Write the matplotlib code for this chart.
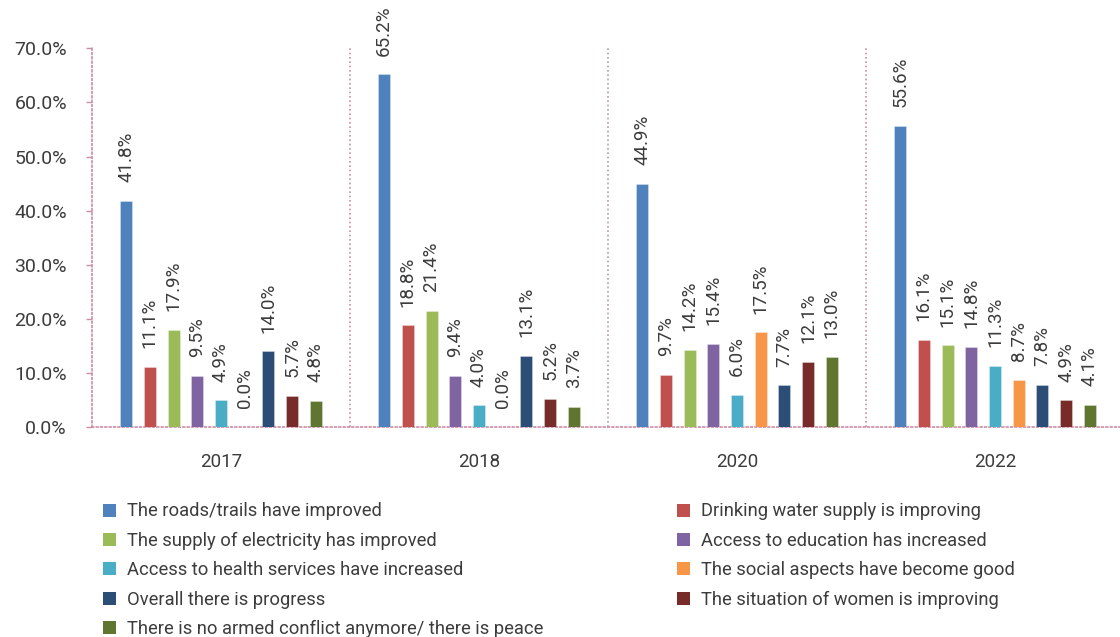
import matplotlib
matplotlib.use("Agg")
import matplotlib.pyplot as plt
from matplotlib.patches import Patch

years = ["2017", "2018", "2020", "2022"]

series_names = [
    "The roads/trails have improved",
    "Drinking water supply is improving",
    "The supply of electricity has improved",
    "Access to education has increased",
    "Access to health services have increased",
    "The social aspects have become good",
    "Overall there is progress",
    "The situation of women is improving",
    "There is no armed conflict anymore/ there is peace",
]

roads = [41.8, 65.2, 44.9, 55.6]
water = [11.1, 18.8, 9.7, 16.1]
electricity = [17.9, 21.4, 14.2, 15.1]
education = [9.5, 9.4, 15.4, 14.8]
health = [4.9, 4.0, 6.0, 11.3]
social = [0.0, 0.0, 17.5, 8.7]
progress = [14.0, 13.1, 7.7, 7.8]
women = [5.7, 5.2, 12.1, 4.9]
peace = [4.8, 3.7, 13.0, 4.1]

series_values = [roads, water, electricity, education, health,
                 social, progress, women, peace]

colors = ["#4F81BD", "#C0504D", "#9BBB59", "#8064A2", "#4BACC6",
          "#F79646", "#2C4D75", "#772C2A", "#5F7530"]

yticks = [0, 10, 20, 30, 40, 50, 60, 70]

FONT = "Roboto"
TEXT_COLOR = "#3c3c3c"
GRID_COLOR = "#CC8DA6"
DOT = (0, (1.0, 1.6))

plt.rcParams["font.family"] = [FONT, "DejaVu Sans"]

fig = plt.figure(figsize=(11.2, 6.37), dpi=100)
ax = fig.add_axes([92 / 1120, 1 - 427 / 637, 1032 / 1120, (427 - 48.3) / 637])

slot = 0.0919
bar_w = 0.0465
n = len(series_values)

for i, (vals, col) in enumerate(zip(series_values, colors)):
    xs = [g + (i - (n - 1) / 2) * slot for g in range(len(years))]
    ax.bar(xs, vals, width=bar_w, color=col,
           edgecolor=(1, 1, 1, 0.35), linewidth=0.6, zorder=3)
    for x, v in zip(xs, vals):
        ax.annotate(f"{v:.1f}%", xy=(x, v), xytext=(0, 13.5),
                    textcoords="offset points", rotation=90,
                    ha="center", va="bottom", fontsize=13.5,
                    color=TEXT_COLOR)

ax.set_xlim(-0.5, 3.5)
ax.set_ylim(0, 70)

# dotted group separators
ax.vlines([0.5, 1.5, 2.5], 0, 70, colors=GRID_COLOR, linestyles=[DOT],
          linewidth=1.2, zorder=1)

for s in ["top", "right"]:
    ax.spines[s].set_visible(False)
for s in ["left", "bottom"]:
    ax.spines[s].set_color(GRID_COLOR)
    ax.spines[s].set_linestyle(DOT)
    ax.spines[s].set_linewidth(1.2)

ax.set_yticks(yticks)
ax.set_yticklabels([f"{t:.1f}%" for t in yticks])
ax.tick_params(axis="y", length=4.5, width=1.0, color=GRID_COLOR,
               pad=13.5, labelsize=14, labelcolor=TEXT_COLOR)
ax.set_xticks(range(len(years)))
ax.set_xticklabels(years)
ax.tick_params(axis="x", length=0, pad=19, labelsize=13.5,
               labelcolor=TEXT_COLOR)

handles = [Patch(facecolor=c, edgecolor="none") for c in colors]

leg_kw = dict(frameon=False, fontsize=13.2, handlelength=0.72,
              handleheight=0.72, handletextpad=0.6, labelspacing=0.62,
              borderpad=0, borderaxespad=0, loc="upper left",
              labelcolor=TEXT_COLOR)
left_idx = [0, 2, 4, 6, 8]
right_idx = [1, 3, 5, 7]
leg1 = fig.legend([handles[i] for i in left_idx],
                  [series_names[i] for i in left_idx],
                  bbox_to_anchor=(103 / 1120, 1 - 502.5 / 637), **leg_kw)
leg2 = fig.legend([handles[i] for i in right_idx],
                  [series_names[i] for i in right_idx],
                  bbox_to_anchor=(677 / 1120, 1 - 502.5 / 637), **leg_kw)

fig.savefig("out.png", dpi=100)
